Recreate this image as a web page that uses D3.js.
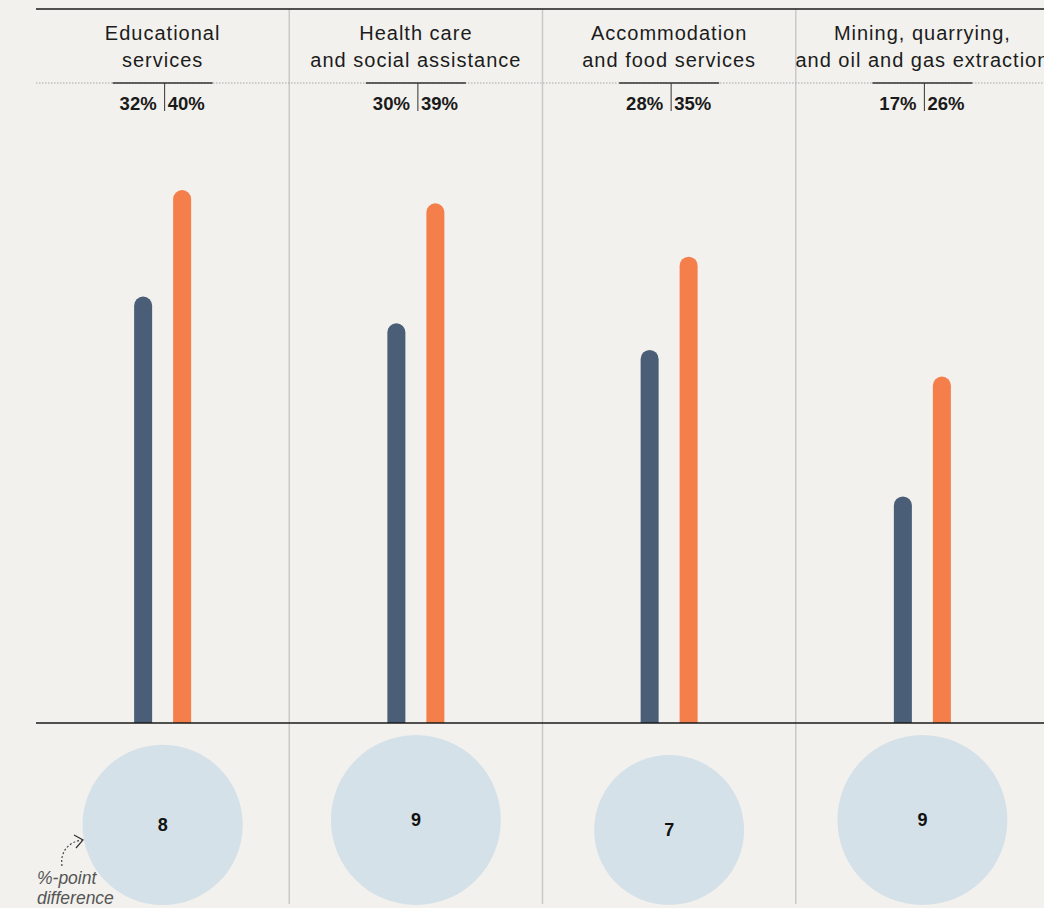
<!DOCTYPE html>
<html>
<head>
<meta charset="utf-8">
<script src="https://cdn.jsdelivr.net/npm/d3@7"></script>
<style>
  html, body { margin: 0; padding: 0; background: #f2f1ed; }
  svg { display: block; font-family: "Liberation Sans", Arial, sans-serif; }
</style>
</head>
<body>
<svg id="chart" width="1044" height="908"></svg>
<script>
// industry columns
const industries = [
  ['Educational', 'services'],
  ['Health care', 'and social assistance'],
  ['Accommodation', 'and food services'],
  ['Mining, quarrying,', 'and oil and gas extraction']
]
const seriesA = [32, 30, 28, 17]   // dark bars
const seriesB = [40, 39, 35, 26]   // orange bars
const diffs = [8, 9, 7, 9]         // %-point difference

const W = 1044, H = 908
const svg = d3.select('#chart')

const keys = industries.map((d, i) => i)
const x = d3.scaleBand().domain(keys).range([36, 1049])
const y = d3.scaleLinear().domain([0, 40]).range([723, 190])
const r = d3.scaleSqrt().domain([0, 9]).range([0, 85])

const barW = 18
const gap = 19.5
const circleBottom = 905

// dividers
svg.selectAll('line.divider')
  .data(keys.slice(1))
  .join('line')
  .attr('class', 'divider')
  .attr('x1', d => x(d)).attr('x2', d => x(d))
  .attr('y1', 9).attr('y2', 904)
  .attr('stroke', '#c9c9c7').attr('stroke-width', 1.5)

// top rule
svg.append('line')
  .attr('x1', 36).attr('x2', W).attr('y1', 9).attr('y2', 9)
  .attr('stroke', '#1a1a1a').attr('stroke-width', 1.5)

// dotted rule under titles
svg.append('line')
  .attr('x1', 36).attr('x2', W).attr('y1', 83).attr('y2', 83)
  .attr('stroke', '#a8a8a8').attr('stroke-width', 1)
  .attr('stroke-dasharray', '1.5,1.5')

const cols = svg.selectAll('g.col')
  .data(keys)
  .join('g')
  .attr('class', 'col')
  .attr('transform', d => `translate(${x(d) + x.bandwidth() / 2},0)`)

// titles
cols.each(function(d) {
  const t = d3.select(this).append('text')
    .attr('text-anchor', 'middle')
    .attr('font-size', 20)
    .attr('letter-spacing', 1)
    .attr('fill', '#1c1c1c')
  industries[d].forEach((line, j) => {
    t.append('tspan').attr('x', 0).attr('y', 40 + j * 27).text(line)
  })
})

// short rule + tick + percent labels
cols.append('line')
  .attr('x1', -50).attr('x2', 50).attr('y1', 83).attr('y2', 83)
  .attr('stroke', '#333').attr('stroke-width', 1.5)
cols.append('line')
  .attr('x1', 2).attr('x2', 2).attr('y1', 83).attr('y2', 111)
  .attr('stroke', '#333').attr('stroke-width', 1)
cols.append('text')
  .attr('x', -6).attr('y', 110)
  .attr('text-anchor', 'end')
  .attr('font-size', 18.5).attr('font-weight', 'bold').attr('fill', '#1a1a1a')
  .text(d => seriesA[d] + '%')
cols.append('text')
  .attr('x', 5).attr('y', 110)
  .attr('text-anchor', 'start')
  .attr('font-size', 18.5).attr('font-weight', 'bold').attr('fill', '#1a1a1a')
  .text(d => seriesB[d] + '%')

// bar with rounded top, flat bottom
function barPath(cx, v) {
  const top = y(v), base = y(0), rr = barW / 2
  const l = cx - rr, rgt = cx + rr
  return `M${l},${base}V${top + rr}A${rr},${rr} 0 0 1 ${rgt},${top + rr}V${base}Z`
}

cols.append('path')
  .attr('d', d => barPath(-gap, seriesA[d]))
  .attr('fill', '#4a5e78')
cols.append('path')
  .attr('d', d => barPath(gap, seriesB[d]))
  .attr('fill', '#f47f4a')

// baseline
svg.append('line')
  .attr('x1', 36).attr('x2', W).attr('y1', y(0)).attr('y2', y(0))
  .attr('stroke', '#1a1a1a').attr('stroke-width', 1.5)

// difference circles
cols.append('circle')
  .attr('cx', 0)
  .attr('cy', d => circleBottom - r(diffs[d]))
  .attr('r', d => r(diffs[d]))
  .attr('fill', '#d5e1e8')
cols.append('text')
  .attr('x', 0)
  .attr('y', d => circleBottom - r(diffs[d]) + 6)
  .attr('text-anchor', 'middle')
  .attr('font-size', 18).attr('font-weight', 'bold').attr('fill', '#111')
  .text(d => diffs[d])

// annotation
const note = svg.append('text')
  .attr('font-size', 17.5).attr('font-style', 'italic').attr('fill', '#555')
note.append('tspan').attr('x', 37).attr('y', 884).text('%-point')
note.append('tspan').attr('x', 37).attr('y', 904).text('difference')

svg.append('path')
  .attr('d', 'M62,866 C60,852 68,842 82,840')
  .attr('fill', 'none').attr('stroke', '#444').attr('stroke-width', 1.2)
  .attr('stroke-dasharray', '2,2')
svg.append('path')
  .attr('d', 'M74,835 L83,840 L76,848')
  .attr('fill', 'none').attr('stroke', '#333').attr('stroke-width', 1.2)
</script>
</body>
</html>
